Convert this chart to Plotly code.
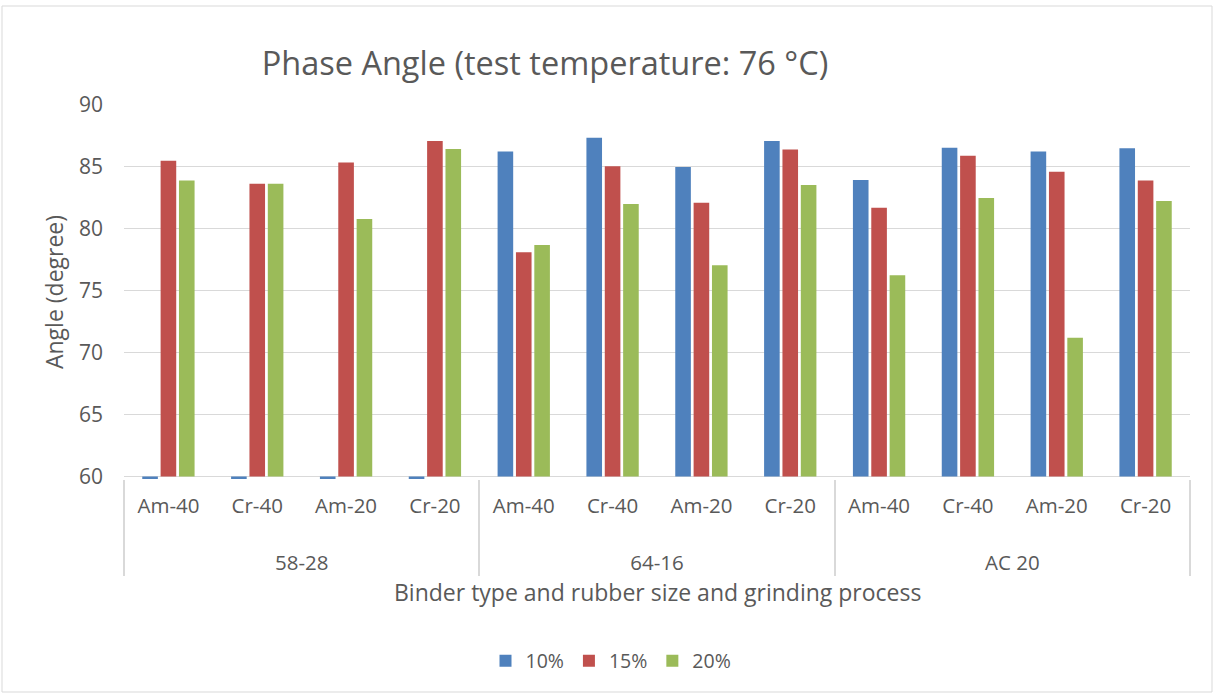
import plotly.graph_objects as go

# ---- data ----
groups = ["58-28"] * 4 + ["64-16"] * 4 + ["AC 20"] * 4
subcats = ["Am-40", "Cr-40", "Am-20", "Cr-20"] * 3
series_names = ["10%", "15%", "20%"]
vals_10 = [0, 0, 0, 0, 86.25, 87.35, 85.0, 87.1, 83.95, 86.55, 86.25, 86.5]
vals_15 = [85.5, 83.65, 85.35, 87.1, 78.1, 85.05, 82.1, 86.4, 81.7, 85.9, 84.6, 83.9]
vals_20 = [83.9, 83.65, 80.8, 86.45, 78.7, 82.0, 77.05, 83.55, 76.25, 82.5, 71.2, 82.25]
y_ticks = [60, 65, 70, 75, 80, 85, 90]

colors = ["#4F81BD", "#C0504D", "#9BBB59"]
BASE = 60
LABEL_PX = 20.5

# label text rendered at LABEL_PX; inner labels get an empty second line so the
# group row sits lower (as in the reference)
span = "<span style='font-size:%spx'>%s</span>"
sub_labels = [span % (LABEL_PX, s) + "<br> " for s in subcats]
group_labels = [span % (LABEL_PX, g) for g in groups]

fig = go.Figure()
for name, vals, col in zip(series_names, [vals_10, vals_15, vals_20], colors):
    fig.add_trace(go.Bar(
        x=[group_labels, sub_labels],
        y=[v - BASE for v in vals],
        base=BASE,
        name=name,
        marker=dict(color=col, line=dict(width=0)),
        customdata=vals,
        hovertemplate="%{customdata}<extra>" + name + "</extra>",
    ))

# geometry (px)
W, H = 1214, 694
L, R, T, B = 124, 24, 105, 215
pw, ph = W - L - R, H - T - B

def px_x(p):
    return (p - L) / pw

def px_y(p):
    return (H - B - p) / ph

font_fam = "Open Sans, Noto Sans, sans-serif"
txt = "#595959"

fig.update_layout(
    width=W, height=H,
    margin=dict(l=L, r=R, t=T, b=B),
    paper_bgcolor="white", plot_bgcolor="white",
    barmode="group", bargap=0.38, bargroupgap=0.15,
    font=dict(family=font_fam, color=txt, size=20),
    title=dict(text="Phase Angle (test temperature: 76 °C)",
               x=545 / W, xanchor="center", y=1 - 64 / H, yanchor="middle",
               font=dict(size=32.5, color=txt, family=font_fam)),
    showlegend=True,
    legend=dict(orientation="h", x=px_x(611), xanchor="center",
                y=px_y(661), yanchor="middle",
                font=dict(size=19.5, color=txt), itemwidth=30, traceorder="normal"),
    xaxis=dict(type="multicategory", showgrid=False, ticks="",
               tickfont=dict(size=25.5, color=txt),
               ticklabelstandoff=7,
               showdividers=True, dividercolor="#D9D9D9", dividerwidth=1.5,
               showline=False, zeroline=False),
    yaxis=dict(range=[59.8, 90], tickvals=y_ticks, showgrid=True,
               gridcolor="#D9D9D9", gridwidth=1.3, zeroline=False,
               showline=False, ticks="", tickfont=dict(size=21, color=txt),
               ticklabelstandoff=20,
               title=dict(text="Angle (degree)", font=dict(size=23, color=txt), standoff=8)),
    annotations=[dict(text="Binder type and rubber size and grinding process",
                      xref="paper", yref="paper", x=px_x(657), y=px_y(592),
                      xanchor="center", yanchor="middle", showarrow=False,
                      font=dict(size=23, color=txt))],
    shapes=[dict(type="rect", xref="paper", yref="paper",
                 x0=px_x(2), x1=px_x(1212), y0=px_y(692), y1=px_y(6),
                 line=dict(color="#D9D9D9", width=1), layer="below")],
)

fig.write_html("out.html", config={"displayModeBar": False},
               post_script="document.body.style.margin='0';")
